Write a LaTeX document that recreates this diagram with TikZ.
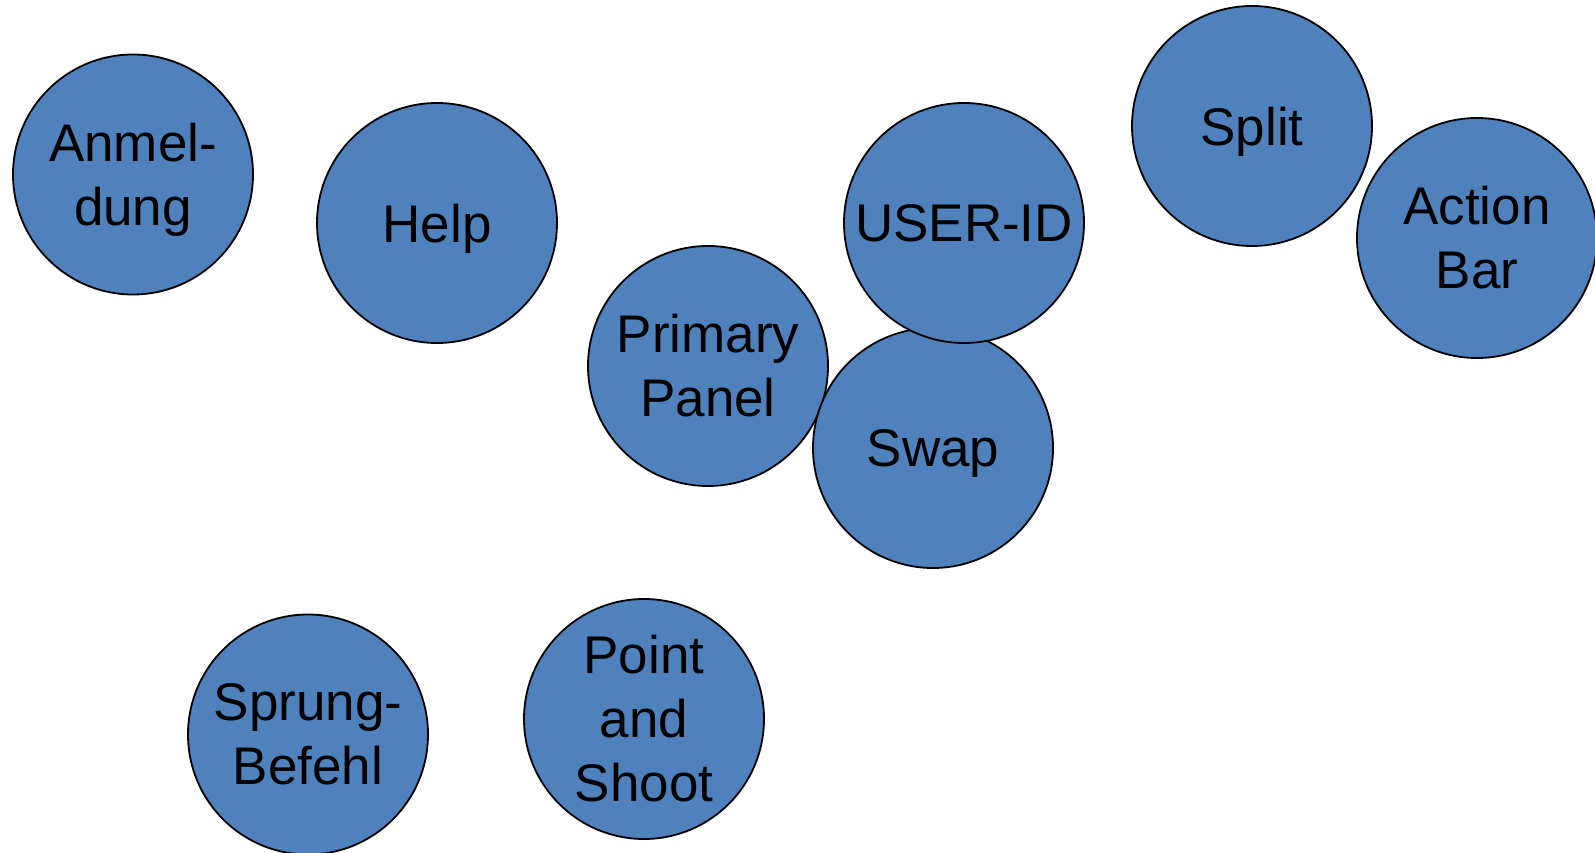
\documentclass[tikz,border=0pt]{standalone}
\usepackage{fontspec}
\setmainfont{Liberation Sans}
\usepackage{xcolor}
\definecolor{color1}{RGB}{79,129,189}

\begin{document}
\begin{tikzpicture}[x=1pt,y=-1pt,
  topic/.style={circle,draw=black,line width=1.8pt,fill=color1,minimum size=240pt,
    inner sep=0pt,align=center,font=\fontsize{53}{64}\selectfont}]
\useasboundingbox (0,0) rectangle (1595,853);

\node[topic,text depth=0pt] (anmeldung) at (133,174.5) {Anmel-\\dung};
\node[topic,text depth=0pt] (help) at (437,223) {Help};
\node[topic] (primary) at (708,366) {Primary\\Panel};
\node[topic,text depth=0pt] (swap) at (933,448) {Swap};
\node[topic] (userid) at (964,223) {USER-ID};
\node[topic,text depth=0pt] (split) at (1252,126) {Split};
\node[topic] (actionbar) at (1477,238) {Action\\Bar};
\node[topic] (sprung) at (308,734.5) {Sprung-\\Befehl};
\node[topic] (point) at (644,719) {Point\\and\\Shoot};
\end{tikzpicture}
\end{document}
